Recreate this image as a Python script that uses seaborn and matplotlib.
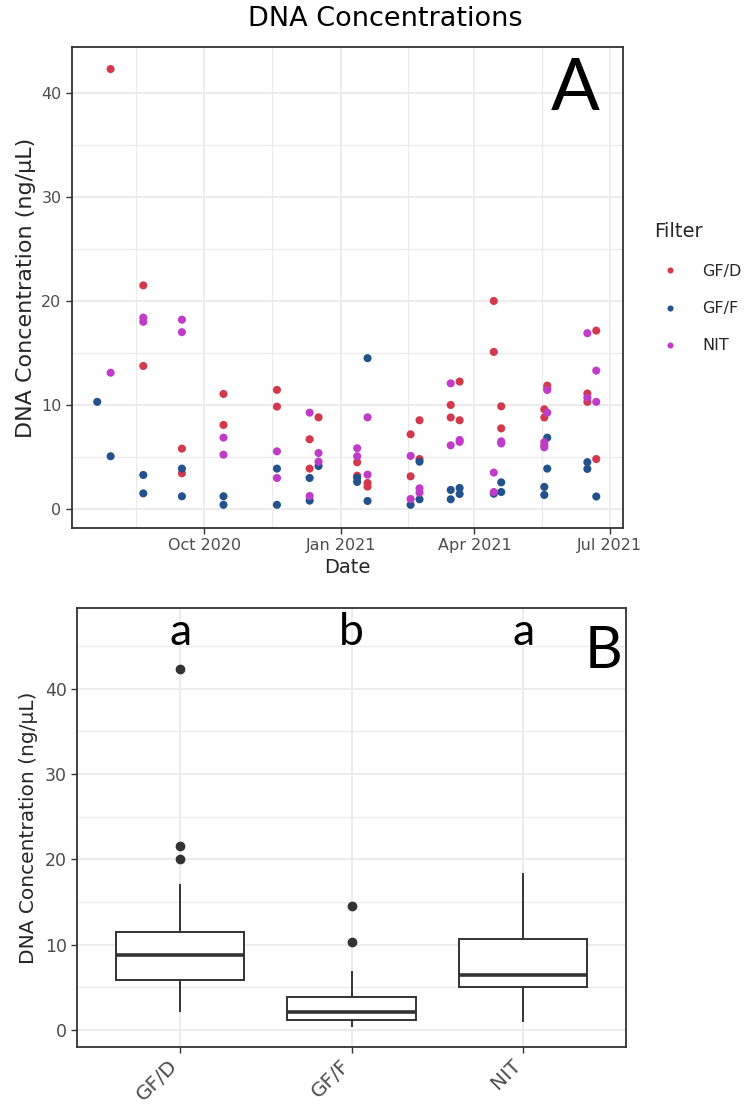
import numpy as np
import pandas as pd
import matplotlib
matplotlib.use("Agg")
import matplotlib.pyplot as plt
import matplotlib.dates as mdates
import matplotlib.transforms as mtransforms
from matplotlib.ticker import MultipleLocator, FixedLocator
import seaborn as sns

# ---------------- data ----------------
filters = ["GF/D", "GF/F", "NIT"]
colors = ["#D3394C", "#24528C", "#C03CC8"]

gfd_dates = ["2020-07-30", "2020-08-21", "2020-08-21", "2020-09-16", "2020-09-16",
             "2020-10-14", "2020-10-14", "2020-11-19", "2020-11-19", "2020-12-11",
             "2020-12-11", "2020-12-17", "2021-01-12", "2021-01-12", "2021-01-19",
             "2021-01-19", "2021-02-17", "2021-02-17", "2021-02-23", "2021-02-23",
             "2021-03-16", "2021-03-16", "2021-03-22", "2021-03-22", "2021-04-14",
             "2021-04-14", "2021-04-19", "2021-04-19", "2021-05-18", "2021-05-18",
             "2021-05-18", "2021-05-20", "2021-05-20", "2021-06-16", "2021-06-16",
             "2021-06-22", "2021-06-22"]
gfd_vals = [42.3, 21.5, 13.75, 5.8, 3.43,
            11.06, 8.08, 11.45, 9.84, 6.7,
            3.88, 8.81, 4.49, 3.2, 2.5,
            2.15, 7.18, 3.14, 8.53, 4.8,
            10.0, 8.8, 12.25, 8.53, 20.0,
            15.1, 9.87, 7.75, 9.58, 8.8,
            6.1, 11.86, 11.6, 11.1, 10.3,
            17.15, 4.8]

gff_dates = ["2020-07-21", "2020-07-30", "2020-08-21", "2020-08-21", "2020-09-16",
             "2020-09-16", "2020-10-14", "2020-10-14", "2020-11-19", "2020-11-19",
             "2020-12-11", "2020-12-11", "2020-12-17", "2021-01-12", "2021-01-12",
             "2021-01-19", "2021-01-19", "2021-02-17", "2021-02-23", "2021-02-23",
             "2021-03-16", "2021-03-16", "2021-03-22", "2021-03-22", "2021-04-14",
             "2021-04-19", "2021-04-19", "2021-05-18", "2021-05-18", "2021-05-20",
             "2021-05-20", "2021-06-16", "2021-06-16", "2021-06-22"]
gff_vals = [10.3, 5.07, 3.27, 1.5, 3.88,
            1.22, 1.22, 0.4, 3.88, 0.4,
            2.98, 0.8, 4.13, 3.0, 2.6,
            14.5, 0.77, 0.4, 4.55, 0.93,
            1.83, 0.93, 2.02, 1.44, 1.47,
            2.56, 1.63, 2.12, 1.35, 6.86,
            3.88, 4.5, 3.85, 1.2]

nit_dates = ["2020-07-30", "2020-08-21", "2020-08-21", "2020-09-16", "2020-09-16",
             "2020-10-14", "2020-10-14", "2020-11-19", "2020-11-19", "2020-12-11",
             "2020-12-11", "2020-12-17", "2020-12-17", "2021-01-12", "2021-01-12",
             "2021-01-19", "2021-01-19", "2021-02-17", "2021-02-17", "2021-02-23",
             "2021-02-23", "2021-03-16", "2021-03-16", "2021-03-22", "2021-03-22",
             "2021-04-14", "2021-04-14", "2021-04-19", "2021-04-19", "2021-05-18",
             "2021-05-18", "2021-05-20", "2021-05-20", "2021-06-16", "2021-06-16",
             "2021-06-22", "2021-06-22"]
nit_vals = [13.1, 18.4, 18.0, 18.2, 17.0,
            6.86, 5.22, 5.54, 2.98, 9.26,
            1.25, 5.38, 4.55, 5.84, 5.07,
            8.81, 3.3, 5.1, 0.96, 1.99,
            1.57, 12.08, 6.12, 6.63, 6.45,
            3.5, 1.63, 6.5, 6.3, 6.42,
            5.93, 11.44, 9.26, 16.9, 10.7,
            13.3, 10.3]

x_tick_dates = ["2020-07-01", "2020-10-01", "2021-01-01", "2021-04-01", "2021-07-01"]
x_limits = ["2020-07-04", "2021-07-10"]
group_letters = ["a", "b", "a"]

df = pd.concat([
    pd.DataFrame({"Date": pd.to_datetime(gfd_dates), "Conc": gfd_vals, "Filter": "GF/D"}),
    pd.DataFrame({"Date": pd.to_datetime(gff_dates), "Conc": gff_vals, "Filter": "GF/F"}),
    pd.DataFrame({"Date": pd.to_datetime(nit_dates), "Conc": nit_vals, "Filter": "NIT"}),
], ignore_index=True)
palette = dict(zip(filters, colors))

# ---------------- style ----------------
sns.set_theme(style="white")
plt.rcParams["font.family"] = ["DejaVu Sans"]
GRID = "#EBEBEB"
FRAME = "#333333"
TICKTXT = "#4D4D4D"

W, H = 747, 1105
fig = plt.figure(figsize=(W / 100, H / 100), dpi=100)


def fbox(l, t, r, b):
    return [l / W, 1 - b / H, (r - l) / W, (b - t) / H]


def style_axes(ax):
    for s in ax.spines.values():
        s.set_color(FRAME)
        s.set_linewidth(1.3)
    ax.set_axisbelow(True)
    ax.grid(True, which="major", color=GRID, linewidth=1.3)
    ax.grid(True, which="minor", color=GRID, linewidth=0.9)
    ax.tick_params(which="major", length=4, width=1.0, color=FRAME,
                   labelcolor=TICKTXT, direction="out", bottom=True, left=True)
    ax.tick_params(which="minor", length=0)


# ---------------- panel A ----------------
ax1 = fig.add_axes(fbox(72, 47, 623, 528))
sns.scatterplot(data=df, x="Date", y="Conc", hue="Filter", hue_order=filters,
                palette=palette, s=34, linewidth=0, alpha=1, ax=ax1)
ax1.set_xlim(pd.Timestamp(x_limits[0]), pd.Timestamp(x_limits[1]))
ax1.set_ylim(-1.83, 44.42)
style_axes(ax1)
qd = mdates.date2num(pd.to_datetime(x_tick_dates))
ax1.xaxis.set_major_locator(FixedLocator(qd))
ax1.xaxis.set_major_formatter(mdates.DateFormatter("%b %Y"))
ax1.xaxis.set_minor_locator(FixedLocator((qd[:-1] + qd[1:]) / 2))
ax1.yaxis.set_major_locator(MultipleLocator(10))
ax1.yaxis.set_minor_locator(MultipleLocator(5))
ax1.tick_params(axis="both", labelsize=11.5)
ax1.set_xlabel("Date", fontsize=14, labelpad=3)
ax1.set_ylabel("DNA Concentration (ng/\u00b5L)", fontsize=16, labelpad=4)

h, l = ax1.get_legend_handles_labels()
leg = ax1.legend(h, l, title="Filter", loc="upper left",
                 bbox_to_anchor=(648 / W, 1 - 216 / H), bbox_transform=fig.transFigure,
                 frameon=False, fontsize=11.5, title_fontsize=14, markerscale=0.75,
                 handletextpad=1.0, labelspacing=1.4, alignment="left",
                 borderaxespad=0)

fig.text(385 / W, 1 - 19 / H, "DNA Concentrations", ha="center", va="center",
         fontsize=19.5, color="black")
fig.text(575 / W, 1 - 89 / H, "A", ha="center", va="center", fontsize=52,
         family=["Lato", "DejaVu Sans"], color="black")

# ---------------- panel B ----------------
ax2 = fig.add_axes(fbox(77.3, 608.3, 626, 1047.3))
sns.boxplot(data=df, x="Filter", y="Conc", order=filters, color="white",
            linecolor=FRAME, linewidth=1.4, width=0.75, showcaps=False,
            flierprops=dict(marker="o", markerfacecolor=FRAME, markeredgecolor=FRAME,
                            markersize=6),
            medianprops=dict(linewidth=2.6, color=FRAME), ax=ax2)
ax2.set_xlim(-0.6, 2.6)
ax2.set_ylim(-2.03, 49.4)
style_axes(ax2)
ax2.yaxis.set_major_locator(MultipleLocator(10))
ax2.yaxis.set_minor_locator(MultipleLocator(5))
ax2.tick_params(axis="y", labelsize=12.5)
ax2.tick_params(axis="x", labelsize=14.5, pad=2)
shift = mtransforms.ScaledTranslation(-12 / 100, 0, fig.dpi_scale_trans)
for t in ax2.get_xticklabels():
    t.set_rotation(45)
    t.set_ha("right")
    t.set_va("top")
    t.set_rotation_mode("anchor")
    t.set_transform(t.get_transform() + shift)
ax2.set_xlabel("")
ax2.set_ylabel("DNA Concentration (ng/\u00b5L)", fontsize=14.5, labelpad=5)

for i, letter in enumerate(group_letters):
    ax2.text(i, 45.1, letter, ha="center", va="baseline", fontsize=32,
             family=["Lato", "DejaVu Sans"], color="black")
fig.text(603 / W, 1 - 651 / H, "B", ha="center", va="center", fontsize=42,
         family=["Lato", "DejaVu Sans"], color="black")

fig.savefig("out.png", dpi=100, facecolor="white")
